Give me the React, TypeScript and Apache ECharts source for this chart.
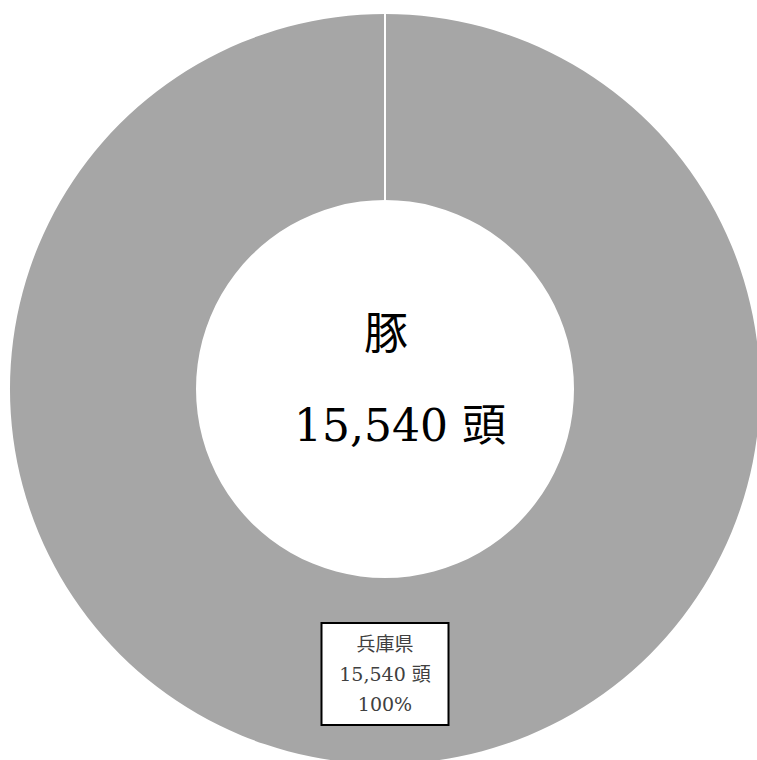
import React, { useEffect, useRef } from "react";
import * as echarts from "echarts";

const categories: string[] = ["兵庫県"];
const values: number[] = [15540];
const animal = "豚";
const unit = "頭";

const FONT = "'DejaVu Serif', 'Noto Sans CJK JP', serif";

export default function App() {
  const ref = useRef<HTMLDivElement>(null);
  useEffect(() => {
    if (!ref.current) return;
    const chart = echarts.init(ref.current, undefined, { renderer: "svg" });
    const cx = 385;
    const cy = 389;
    const rIn = 189;
    const rOut = 375;
    const total = values.reduce((a, b) => a + b, 0);
    chart.setOption({
      animation: false,
      backgroundColor: "#ffffff",
      series: [
        {
          type: "pie",
          center: [cx, cy],
          radius: [rIn, rOut],
          startAngle: 90,
          clockwise: true,
          silent: true,
          emphasis: { disabled: true },
          itemStyle: { color: "#a6a6a6" },
          label: {
            show: true,
            position: "inside",
            formatter: (p: any) =>
              `${p.name}\n${Number(p.value).toLocaleString("en-US")} ${unit}\n${Math.round(p.percent)}%`,
            fontFamily: FONT,
            fontSize: 19,
            lineHeight: 30,
            color: "#404040",
            backgroundColor: "#ffffff",
            borderColor: "#000000",
            borderWidth: 2,
            padding: [5, 2],
            width: 121,
            align: "center",
          },
          labelLine: { show: false },
          data: categories.map((c, i) => ({ name: c, value: values[i] })),
        },
      ],
      graphic: [
        {
          type: "line",
          silent: true,
          z: 100,
          shape: { x1: cx, y1: cy - rOut - 2, x2: cx, y2: cy - rIn + 1 },
          style: { stroke: "#ffffff", lineWidth: 2 },
        },
        {
          type: "text",
          x: cx + 1,
          y: 333,
          z: 100,
          style: {
            text: animal,
            font: `44px ${FONT}`,
            fill: "#000000",
            textAlign: "center",
            textVerticalAlign: "middle",
          },
        },
        {
          type: "text",
          x: cx + 15,
          y: 425,
          z: 100,
          style: {
            text: `${total.toLocaleString("en-US")} ${unit}`,
            font: `44px ${FONT}`,
            fill: "#000000",
            textAlign: "center",
            textVerticalAlign: "middle",
          },
        },
      ],
    });
    return () => chart.dispose();
  }, []);
  return (
    <div
      ref={ref}
      style={{ position: "absolute", left: 0, top: 0, width: 757, height: 760 }}
    />
  );
}
